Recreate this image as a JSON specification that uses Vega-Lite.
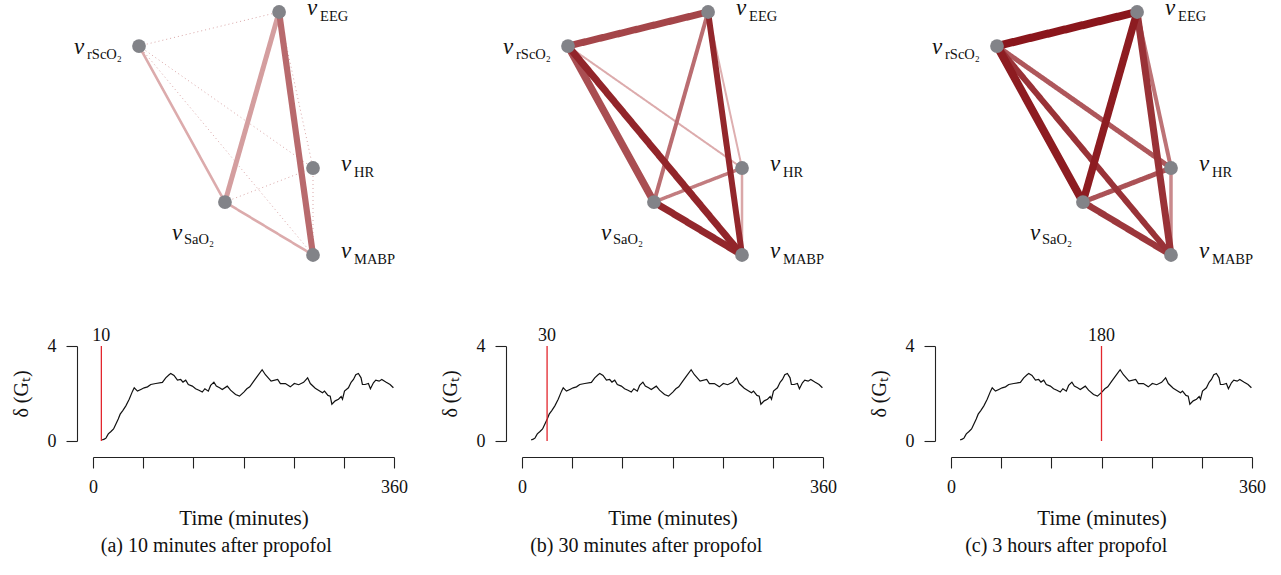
{
  "$schema": "https://vega.github.io/schema/vega-lite/v6.json",
  "background": "white",
  "padding": {"left": 11, "top": -3, "right": 5, "bottom": 5},
  "config": {
    "view": {"stroke": null},
    "font": "Liberation Serif",
    "axis": {"labelFont": "Liberation Serif", "titleFont": "Liberation Serif", "grid": false, "domainColor": "#222", "tickColor": "#222", "labelColor": "#111", "titleColor": "#111", "titleFontWeight": "normal", "domainWidth": 1.1, "tickWidth": 1.1}
  },
  "datasets": {
    "nodes": [
      {"node": "EEG", "sub": "EEG", "x": 0.805, "y": 1.0, "side": "right"},
      {"node": "rScO2", "sub": "rScO₂", "x": 0.0, "y": 0.86, "side": "left"},
      {"node": "HR", "sub": "HR", "x": 1.0, "y": 0.358, "side": "right"},
      {"node": "SaO2", "sub": "SaO₂", "x": 0.494, "y": 0.218, "side": "below"},
      {"node": "MABP", "sub": "MABP", "x": 1.0, "y": 0.0, "side": "right"}
    ],
    "edges": [
      {"panel": "a", "from": "rScO2", "to": "EEG", "c": 0.22, "s": 0, "style": "dotted"},
      {"panel": "a", "from": "rScO2", "to": "HR", "c": 0.22, "s": 0, "style": "dotted"},
      {"panel": "a", "from": "rScO2", "to": "MABP", "c": 0.22, "s": 0, "style": "dotted"},
      {"panel": "a", "from": "SaO2", "to": "HR", "c": 0.22, "s": 0, "style": "dotted"},
      {"panel": "a", "from": "EEG", "to": "HR", "c": 0.22, "s": 0, "style": "dotted"},
      {"panel": "a", "from": "HR", "to": "MABP", "c": 0.22, "s": 0, "style": "dotted"},
      {"panel": "a", "from": "rScO2", "to": "SaO2", "c": 0.2, "s": 0.2, "style": "solid"},
      {"panel": "a", "from": "SaO2", "to": "MABP", "c": 0.2, "s": 0.2, "style": "solid"},
      {"panel": "a", "from": "EEG", "to": "SaO2", "c": 0.27, "s": 0.5, "style": "solid"},
      {"panel": "a", "from": "EEG", "to": "MABP", "c": 0.55, "s": 0.65, "style": "solid"},
      {"panel": "b", "from": "rScO2", "to": "HR", "c": 0.2, "s": 0.125, "style": "solid"},
      {"panel": "b", "from": "EEG", "to": "HR", "c": 0.18, "s": 0.125, "style": "solid"},
      {"panel": "b", "from": "HR", "to": "MABP", "c": 0.22, "s": 0.19, "style": "solid"},
      {"panel": "b", "from": "SaO2", "to": "HR", "c": 0.45, "s": 0.31, "style": "solid"},
      {"panel": "b", "from": "EEG", "to": "SaO2", "c": 0.53, "s": 0.375, "style": "solid"},
      {"panel": "b", "from": "rScO2", "to": "EEG", "c": 0.75, "s": 0.75, "style": "solid"},
      {"panel": "b", "from": "rScO2", "to": "SaO2", "c": 0.7, "s": 0.8, "style": "solid"},
      {"panel": "b", "from": "EEG", "to": "MABP", "c": 0.91, "s": 0.625, "style": "solid"},
      {"panel": "b", "from": "SaO2", "to": "MABP", "c": 0.91, "s": 0.75, "style": "solid"},
      {"panel": "b", "from": "rScO2", "to": "MABP", "c": 0.92, "s": 0.75, "style": "solid"},
      {"panel": "c", "from": "HR", "to": "MABP", "c": 0.38, "s": 0.31, "style": "solid"},
      {"panel": "c", "from": "EEG", "to": "HR", "c": 0.5, "s": 0.375, "style": "solid"},
      {"panel": "c", "from": "rScO2", "to": "HR", "c": 0.65, "s": 0.5, "style": "solid"},
      {"panel": "c", "from": "SaO2", "to": "HR", "c": 0.68, "s": 0.5, "style": "solid"},
      {"panel": "c", "from": "SaO2", "to": "MABP", "c": 0.82, "s": 0.69, "style": "solid"},
      {"panel": "c", "from": "rScO2", "to": "MABP", "c": 0.85, "s": 0.625, "style": "solid"},
      {"panel": "c", "from": "EEG", "to": "MABP", "c": 0.85, "s": 0.75, "style": "solid"},
      {"panel": "c", "from": "EEG", "to": "SaO2", "c": 0.97, "s": 0.81, "style": "solid"},
      {"panel": "c", "from": "rScO2", "to": "SaO2", "c": 0.97, "s": 0.875, "style": "solid"},
      {"panel": "c", "from": "rScO2", "to": "EEG", "c": 1.0, "s": 0.875, "style": "solid"}
    ],
    "markers": [
      {"panel": "a", "t": 10},
      {"panel": "b", "t": 30},
      {"panel": "c", "t": 180}
    ],
    "series": [
      {"t": 11, "v": 0.05}, {"t": 13.5, "v": 0.08}, {"t": 15.5, "v": 0.12}, {"t": 18.3, "v": 0.3}, {"t": 21.5, "v": 0.4},
      {"t": 24.6, "v": 0.51}, {"t": 27.4, "v": 0.72}, {"t": 30.2, "v": 0.93}, {"t": 32.5, "v": 1.13}, {"t": 35.4, "v": 1.27},
      {"t": 39.3, "v": 1.48}, {"t": 43.3, "v": 1.76}, {"t": 47.3, "v": 2.1}, {"t": 49.3, "v": 2.24}, {"t": 53.2, "v": 2.1},
      {"t": 57.2, "v": 2.17}, {"t": 61.2, "v": 2.24}, {"t": 65.2, "v": 2.28}, {"t": 69.1, "v": 2.38}, {"t": 75.1, "v": 2.42},
      {"t": 83, "v": 2.47}, {"t": 87, "v": 2.66}, {"t": 91, "v": 2.79}, {"t": 93, "v": 2.84}, {"t": 96.9, "v": 2.76},
      {"t": 101, "v": 2.56}, {"t": 104.9, "v": 2.59}, {"t": 107.6, "v": 2.48}, {"t": 110.9, "v": 2.56}, {"t": 114, "v": 2.38},
      {"t": 118.8, "v": 2.31}, {"t": 122.7, "v": 2.2}, {"t": 126.7, "v": 2.14}, {"t": 130.7, "v": 2.06}, {"t": 133.8, "v": 2.2},
      {"t": 137.9, "v": 2.1}, {"t": 140.7, "v": 2.34}, {"t": 144.6, "v": 2.48}, {"t": 147.5, "v": 2.31}, {"t": 151.4, "v": 2.24},
      {"t": 154.6, "v": 2.17}, {"t": 160.6, "v": 2.31}, {"t": 164.5, "v": 2.14}, {"t": 170.5, "v": 1.96}, {"t": 175.2, "v": 1.89},
      {"t": 180.4, "v": 2.06}, {"t": 184, "v": 2.2}, {"t": 187.5, "v": 2.28}, {"t": 192.3, "v": 2.52}, {"t": 197.1, "v": 2.75},
      {"t": 202.3, "v": 3.0}, {"t": 206.2, "v": 2.79}, {"t": 213, "v": 2.52}, {"t": 220.9, "v": 2.59}, {"t": 224.1, "v": 2.42},
      {"t": 230.1, "v": 2.42}, {"t": 236, "v": 2.28}, {"t": 240.8, "v": 2.42}, {"t": 246, "v": 2.37}, {"t": 251.9, "v": 2.47},
      {"t": 256.7, "v": 2.66}, {"t": 259.9, "v": 2.42}, {"t": 265.8, "v": 2.22}, {"t": 270.6, "v": 2.12}, {"t": 274.5, "v": 2.03},
      {"t": 276.9, "v": 2.1}, {"t": 281, "v": 1.92}, {"t": 283.7, "v": 1.89}, {"t": 285.7, "v": 1.55}, {"t": 289.7, "v": 1.69},
      {"t": 293.6, "v": 1.76}, {"t": 296.8, "v": 1.87}, {"t": 298.4, "v": 1.76}, {"t": 300.8, "v": 2.1}, {"t": 305.5, "v": 2.24},
      {"t": 308.7, "v": 2.47}, {"t": 311.5, "v": 2.59}, {"t": 314.3, "v": 2.79}, {"t": 317.4, "v": 2.84}, {"t": 320.6, "v": 2.66},
      {"t": 322.2, "v": 2.38}, {"t": 325.4, "v": 2.38}, {"t": 329.4, "v": 2.42}, {"t": 331.8, "v": 2.2}, {"t": 335.4, "v": 2.45},
      {"t": 338.2, "v": 2.56}, {"t": 342.2, "v": 2.52}, {"t": 345.4, "v": 2.59}, {"t": 350.2, "v": 2.48}, {"t": 355.3, "v": 2.38},
      {"t": 359.3, "v": 2.24}
    ]
  },
  "concat": [
    {
      "width": 301, "height": 243,
      "encoding": {
        "x": {"field": "x", "type": "quantitative", "scale": {"domain": [-0.2644, 1.4655], "nice": false, "zero": false}, "axis": null},
        "y": {"field": "y", "type": "quantitative", "scale": {"domain": [0, 1], "nice": false, "zero": false}, "axis": null}
      },
      "layer": [
        {"data": {"name": "edges"}, "transform": [{"filter": "datum.panel == 'a'"}, {"lookup": "from", "from": {"data": {"name": "nodes"}, "key": "node", "fields": ["x", "y"]}}, {"lookup": "to", "from": {"data": {"name": "nodes"}, "key": "node", "fields": ["x", "y"]}, "as": ["xe", "ye"]}],
         "mark": {"type": "rule", "strokeCap": "butt"},
         "encoding": {"x2": {"field": "xe"}, "y2": {"field": "ye"},
           "color": {"field": "c", "type": "quantitative", "scale": {"domain": [0, 1], "range": ["#f0d0d0", "#8a161c"], "interpolate": "rgb"}, "legend": null},
           "strokeWidth": {"field": "s", "type": "quantitative", "scale": {"domain": [0, 1], "range": [1, 9]}, "legend": null},
           "strokeDash": {"field": "style", "type": "nominal", "scale": {"domain": ["solid", "dotted"], "range": [[1, 0], [1, 3]]}, "legend": null}}},
        {"data": {"name": "nodes"}, "mark": {"type": "point", "filled": true, "size": 190, "color": "#828388", "opacity": 1}},
        {"data": {"name": "nodes"}, "transform": [{"filter": "datum.side == 'right'"}], "mark": {"type": "text", "align": "left", "baseline": "alphabetic", "dx": 28, "dy": 3, "fontSize": 23, "fontStyle": "italic", "font": "Liberation Serif", "color": "#111"}, "encoding": {"text": {"value": "ν"}}},
        {"data": {"name": "nodes"}, "transform": [{"filter": "datum.side == 'right'"}], "mark": {"type": "text", "align": "left", "baseline": "alphabetic", "dx": 41, "dy": 9, "fontSize": 14.5, "font": "Liberation Serif", "color": "#111"}, "encoding": {"text": {"field": "sub"}}},
        {"data": {"name": "nodes"}, "transform": [{"filter": "datum.side == 'left'"}], "mark": {"type": "text", "align": "left", "baseline": "alphabetic", "dx": -65, "dy": 8, "fontSize": 23, "fontStyle": "italic", "font": "Liberation Serif", "color": "#111"}, "encoding": {"text": {"value": "ν"}}},
        {"data": {"name": "nodes"}, "transform": [{"filter": "datum.side == 'left'"}], "mark": {"type": "text", "align": "left", "baseline": "alphabetic", "dx": -52, "dy": 13, "fontSize": 14.5, "font": "Liberation Serif", "color": "#111"}, "encoding": {"text": {"field": "sub"}}},
        {"data": {"name": "nodes"}, "transform": [{"filter": "datum.side == 'below'"}], "mark": {"type": "text", "align": "left", "baseline": "alphabetic", "dx": -53, "dy": 38, "fontSize": 23, "fontStyle": "italic", "font": "Liberation Serif", "color": "#111"}, "encoding": {"text": {"value": "ν"}}},
        {"data": {"name": "nodes"}, "transform": [{"filter": "datum.side == 'below'"}], "mark": {"type": "text", "align": "left", "baseline": "alphabetic", "dx": -41, "dy": 42, "fontSize": 14.5, "font": "Liberation Serif", "color": "#111"}, "encoding": {"text": {"field": "sub"}}}
      ]
    },
    {
      "width": 301, "height": 243,
      "encoding": {
        "x": {"field": "x", "type": "quantitative", "scale": {"domain": [-0.2644, 1.4655], "nice": false, "zero": false}, "axis": null},
        "y": {"field": "y", "type": "quantitative", "scale": {"domain": [0, 1], "nice": false, "zero": false}, "axis": null}
      },
      "layer": [
        {"data": {"name": "edges"}, "transform": [{"filter": "datum.panel == 'b'"}, {"lookup": "from", "from": {"data": {"name": "nodes"}, "key": "node", "fields": ["x", "y"]}}, {"lookup": "to", "from": {"data": {"name": "nodes"}, "key": "node", "fields": ["x", "y"]}, "as": ["xe", "ye"]}],
         "mark": {"type": "rule", "strokeCap": "butt"},
         "encoding": {"x2": {"field": "xe"}, "y2": {"field": "ye"},
           "color": {"field": "c", "type": "quantitative", "scale": {"domain": [0, 1], "range": ["#f0d0d0", "#8a161c"], "interpolate": "rgb"}, "legend": null},
           "strokeWidth": {"field": "s", "type": "quantitative", "scale": {"domain": [0, 1], "range": [1, 9]}, "legend": null},
           "strokeDash": {"field": "style", "type": "nominal", "scale": {"domain": ["solid", "dotted"], "range": [[1, 0], [1, 3]]}, "legend": null}}},
        {"data": {"name": "nodes"}, "mark": {"type": "point", "filled": true, "size": 190, "color": "#828388", "opacity": 1}},
        {"data": {"name": "nodes"}, "transform": [{"filter": "datum.side == 'right'"}], "mark": {"type": "text", "align": "left", "baseline": "alphabetic", "dx": 28, "dy": 3, "fontSize": 23, "fontStyle": "italic", "font": "Liberation Serif", "color": "#111"}, "encoding": {"text": {"value": "ν"}}},
        {"data": {"name": "nodes"}, "transform": [{"filter": "datum.side == 'right'"}], "mark": {"type": "text", "align": "left", "baseline": "alphabetic", "dx": 41, "dy": 9, "fontSize": 14.5, "font": "Liberation Serif", "color": "#111"}, "encoding": {"text": {"field": "sub"}}},
        {"data": {"name": "nodes"}, "transform": [{"filter": "datum.side == 'left'"}], "mark": {"type": "text", "align": "left", "baseline": "alphabetic", "dx": -65, "dy": 8, "fontSize": 23, "fontStyle": "italic", "font": "Liberation Serif", "color": "#111"}, "encoding": {"text": {"value": "ν"}}},
        {"data": {"name": "nodes"}, "transform": [{"filter": "datum.side == 'left'"}], "mark": {"type": "text", "align": "left", "baseline": "alphabetic", "dx": -52, "dy": 13, "fontSize": 14.5, "font": "Liberation Serif", "color": "#111"}, "encoding": {"text": {"field": "sub"}}},
        {"data": {"name": "nodes"}, "transform": [{"filter": "datum.side == 'below'"}], "mark": {"type": "text", "align": "left", "baseline": "alphabetic", "dx": -53, "dy": 38, "fontSize": 23, "fontStyle": "italic", "font": "Liberation Serif", "color": "#111"}, "encoding": {"text": {"value": "ν"}}},
        {"data": {"name": "nodes"}, "transform": [{"filter": "datum.side == 'below'"}], "mark": {"type": "text", "align": "left", "baseline": "alphabetic", "dx": -41, "dy": 42, "fontSize": 14.5, "font": "Liberation Serif", "color": "#111"}, "encoding": {"text": {"field": "sub"}}}
      ]
    },
    {
      "width": 301, "height": 243,
      "encoding": {
        "x": {"field": "x", "type": "quantitative", "scale": {"domain": [-0.2644, 1.4655], "nice": false, "zero": false}, "axis": null},
        "y": {"field": "y", "type": "quantitative", "scale": {"domain": [0, 1], "nice": false, "zero": false}, "axis": null}
      },
      "layer": [
        {"data": {"name": "edges"}, "transform": [{"filter": "datum.panel == 'c'"}, {"lookup": "from", "from": {"data": {"name": "nodes"}, "key": "node", "fields": ["x", "y"]}}, {"lookup": "to", "from": {"data": {"name": "nodes"}, "key": "node", "fields": ["x", "y"]}, "as": ["xe", "ye"]}],
         "mark": {"type": "rule", "strokeCap": "butt"},
         "encoding": {"x2": {"field": "xe"}, "y2": {"field": "ye"},
           "color": {"field": "c", "type": "quantitative", "scale": {"domain": [0, 1], "range": ["#f0d0d0", "#8a161c"], "interpolate": "rgb"}, "legend": null},
           "strokeWidth": {"field": "s", "type": "quantitative", "scale": {"domain": [0, 1], "range": [1, 9]}, "legend": null},
           "strokeDash": {"field": "style", "type": "nominal", "scale": {"domain": ["solid", "dotted"], "range": [[1, 0], [1, 3]]}, "legend": null}}},
        {"data": {"name": "nodes"}, "mark": {"type": "point", "filled": true, "size": 190, "color": "#828388", "opacity": 1}},
        {"data": {"name": "nodes"}, "transform": [{"filter": "datum.side == 'right'"}], "mark": {"type": "text", "align": "left", "baseline": "alphabetic", "dx": 28, "dy": 3, "fontSize": 23, "fontStyle": "italic", "font": "Liberation Serif", "color": "#111"}, "encoding": {"text": {"value": "ν"}}},
        {"data": {"name": "nodes"}, "transform": [{"filter": "datum.side == 'right'"}], "mark": {"type": "text", "align": "left", "baseline": "alphabetic", "dx": 41, "dy": 9, "fontSize": 14.5, "font": "Liberation Serif", "color": "#111"}, "encoding": {"text": {"field": "sub"}}},
        {"data": {"name": "nodes"}, "transform": [{"filter": "datum.side == 'left'"}], "mark": {"type": "text", "align": "left", "baseline": "alphabetic", "dx": -65, "dy": 8, "fontSize": 23, "fontStyle": "italic", "font": "Liberation Serif", "color": "#111"}, "encoding": {"text": {"value": "ν"}}},
        {"data": {"name": "nodes"}, "transform": [{"filter": "datum.side == 'left'"}], "mark": {"type": "text", "align": "left", "baseline": "alphabetic", "dx": -52, "dy": 13, "fontSize": 14.5, "font": "Liberation Serif", "color": "#111"}, "encoding": {"text": {"field": "sub"}}},
        {"data": {"name": "nodes"}, "transform": [{"filter": "datum.side == 'below'"}], "mark": {"type": "text", "align": "left", "baseline": "alphabetic", "dx": -53, "dy": 38, "fontSize": 23, "fontStyle": "italic", "font": "Liberation Serif", "color": "#111"}, "encoding": {"text": {"value": "ν"}}},
        {"data": {"name": "nodes"}, "transform": [{"filter": "datum.side == 'below'"}], "mark": {"type": "text", "align": "left", "baseline": "alphabetic", "dx": -41, "dy": 42, "fontSize": 14.5, "font": "Liberation Serif", "color": "#111"}, "encoding": {"text": {"field": "sub"}}}
      ]
    },
    {
      "width": 301, "height": 95,
      "title": {"text": "(a) 10 minutes after propofol", "orient": "bottom", "frame": "bounds", "anchor": "middle", "offset": 8, "dx": 7, "font": "Liberation Serif", "fontSize": 20, "fontWeight": "normal", "color": "#111"},
      "encoding": {
        "x": {"field": "t", "type": "quantitative", "scale": {"domain": [0, 360], "nice": false, "zero": false},
              "axis": {"values": [0, 60, 120, 180, 240, 300, 360], "labelExpr": "datum.value == 0 || datum.value == 360 ? datum.label : ''", "offset": 16, "tickSize": 11, "labelPadding": 10, "labelFlush": false, "labelOverlap": false, "labelFontSize": 18, "title": "Time (minutes)", "titleFontSize": 21, "titlePadding": 11}}
      },
      "layer": [
        {"data": {"name": "series"}, "mark": {"type": "line", "color": "#111", "strokeWidth": 1.2},
         "encoding": {"y": {"field": "v", "type": "quantitative", "scale": {"domain": [0, 4], "nice": false, "zero": false},
              "axis": {"values": [0, 4], "offset": 16, "tickSize": 11, "labelPadding": 10, "labelAngle": 0, "labelFontSize": 18, "title": "δ (Gₜ)", "titleFontSize": 20, "titlePadding": 16}}}},
        {"data": {"name": "markers"}, "transform": [{"filter": "datum.panel == 'a'"}], "mark": {"type": "rule", "color": "#e3262d", "strokeWidth": 1.3},
         "encoding": {"y": {"datum": 0}, "y2": {"datum": 4}}},
        {"data": {"name": "markers"}, "transform": [{"filter": "datum.panel == 'a'"}], "mark": {"type": "text", "baseline": "bottom", "dy": -1, "fontSize": 18, "font": "Liberation Serif", "color": "#111"},
         "encoding": {"y": {"datum": 4}, "text": {"field": "t"}}}
      ]
    },
    {
      "width": 301, "height": 95,
      "title": {"text": "(b) 30 minutes after propofol", "orient": "bottom", "frame": "bounds", "anchor": "middle", "offset": 8, "dx": 8, "font": "Liberation Serif", "fontSize": 20, "fontWeight": "normal", "color": "#111"},
      "encoding": {
        "x": {"field": "t", "type": "quantitative", "scale": {"domain": [0, 360], "nice": false, "zero": false},
              "axis": {"values": [0, 60, 120, 180, 240, 300, 360], "labelExpr": "datum.value == 0 || datum.value == 360 ? datum.label : ''", "offset": 16, "tickSize": 11, "labelPadding": 10, "labelFlush": false, "labelOverlap": false, "labelFontSize": 18, "title": "Time (minutes)", "titleFontSize": 21, "titlePadding": 11}}
      },
      "layer": [
        {"data": {"name": "series"}, "mark": {"type": "line", "color": "#111", "strokeWidth": 1.2},
         "encoding": {"y": {"field": "v", "type": "quantitative", "scale": {"domain": [0, 4], "nice": false, "zero": false},
              "axis": {"values": [0, 4], "offset": 16, "tickSize": 11, "labelPadding": 10, "labelAngle": 0, "labelFontSize": 18, "title": "δ (Gₜ)", "titleFontSize": 20, "titlePadding": 16}}}},
        {"data": {"name": "markers"}, "transform": [{"filter": "datum.panel == 'b'"}], "mark": {"type": "rule", "color": "#e3262d", "strokeWidth": 1.3},
         "encoding": {"y": {"datum": 0}, "y2": {"datum": 4}}},
        {"data": {"name": "markers"}, "transform": [{"filter": "datum.panel == 'b'"}], "mark": {"type": "text", "baseline": "bottom", "dy": -1, "fontSize": 18, "font": "Liberation Serif", "color": "#111"},
         "encoding": {"y": {"datum": 4}, "text": {"field": "t"}}}
      ]
    },
    {
      "width": 301, "height": 95,
      "title": {"text": "(c) 3 hours after propofol", "orient": "bottom", "frame": "bounds", "anchor": "middle", "offset": 8, "dx": -1, "font": "Liberation Serif", "fontSize": 20, "fontWeight": "normal", "color": "#111"},
      "encoding": {
        "x": {"field": "t", "type": "quantitative", "scale": {"domain": [0, 360], "nice": false, "zero": false},
              "axis": {"values": [0, 60, 120, 180, 240, 300, 360], "labelExpr": "datum.value == 0 || datum.value == 360 ? datum.label : ''", "offset": 16, "tickSize": 11, "labelPadding": 10, "labelFlush": false, "labelOverlap": false, "labelFontSize": 18, "title": "Time (minutes)", "titleFontSize": 21, "titlePadding": 11}}
      },
      "layer": [
        {"data": {"name": "series"}, "mark": {"type": "line", "color": "#111", "strokeWidth": 1.2},
         "encoding": {"y": {"field": "v", "type": "quantitative", "scale": {"domain": [0, 4], "nice": false, "zero": false},
              "axis": {"values": [0, 4], "offset": 16, "tickSize": 11, "labelPadding": 10, "labelAngle": 0, "labelFontSize": 18, "title": "δ (Gₜ)", "titleFontSize": 20, "titlePadding": 16}}}},
        {"data": {"name": "markers"}, "transform": [{"filter": "datum.panel == 'c'"}], "mark": {"type": "rule", "color": "#e3262d", "strokeWidth": 1.3},
         "encoding": {"y": {"datum": 0}, "y2": {"datum": 4}}},
        {"data": {"name": "markers"}, "transform": [{"filter": "datum.panel == 'c'"}], "mark": {"type": "text", "baseline": "bottom", "dy": -1, "fontSize": 18, "font": "Liberation Serif", "color": "#111"},
         "encoding": {"y": {"datum": 4}, "text": {"field": "t"}}}
      ]
    }
  ],
  "columns": 3,
  "spacing": {"row": 91, "column": 128},
  "bounds": "flush",
  "align": "all"
}
